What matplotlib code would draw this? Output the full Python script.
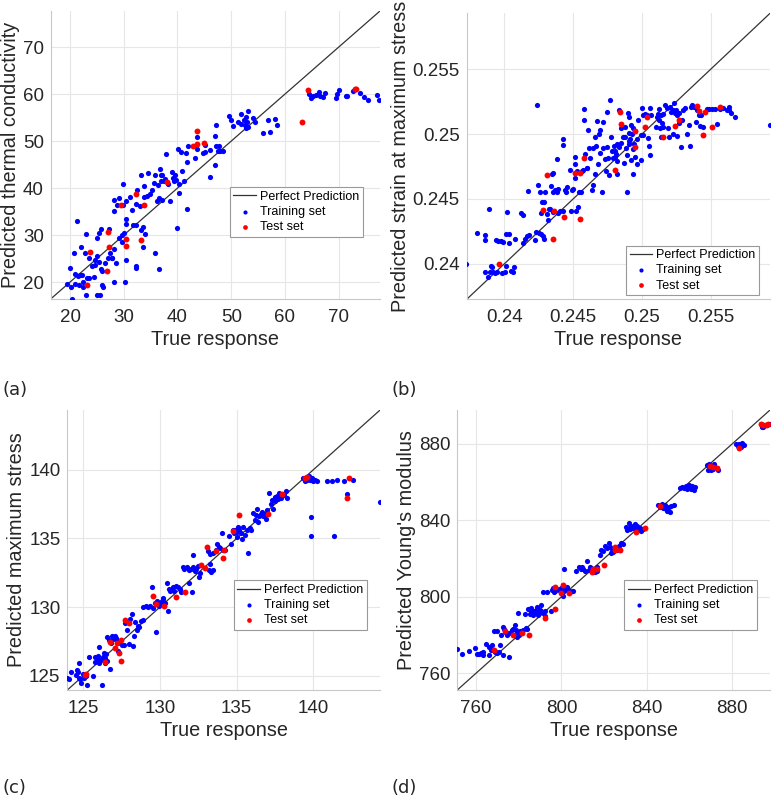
import matplotlib
matplotlib.use("Agg")
import matplotlib.pyplot as plt
import numpy as np

plt.rcParams['font.family'] = ['Liberation Sans', 'DejaVu Sans']

# ---- (a) thermal conductivity ----
a_train_x = [19.4, 19.9, 20.1, 20.4, 20.7, 20.9, 21.0, 21.3, 21.5, 21.6, 21.9, 22.1, 22.3, 22.4, 22.5, 22.7,
             22.9, 23.0, 23.1, 23.5, 23.5, 24.1, 24.4, 24.6, 24.7, 25.0, 25.1, 25.1, 25.3, 25.4, 25.6, 25.7,
             25.8, 25.9, 26.0, 26.1, 26.6, 27.0, 27.3, 27.5, 27.8, 27.9, 28.1, 28.2, 28.2, 28.2, 28.6, 28.7,
             29.1, 29.1, 29.6, 29.7, 29.9, 29.9, 30.0, 30.3, 30.4, 30.4, 30.5, 30.5, 31.2, 31.5, 31.8, 32.3,
             32.3, 32.2, 32.2, 32.5, 33.0, 33.2, 33.3, 33.5, 33.6, 33.8, 33.8, 34.0, 34.3, 34.6, 34.8, 35.3,
             35.6, 35.8, 35.9, 36.1, 36.3, 36.5, 36.6, 36.8, 36.9, 37.0, 37.2, 37.2, 37.4, 37.6, 37.9, 38.2,
             38.6, 39.0, 39.2, 39.4, 39.5, 39.7, 39.9, 40.1, 40.2, 40.3, 40.6, 40.8, 41.3, 41.5, 41.7, 41.8,
             42.0, 43.3, 43.5, 43.6, 43.6, 44.8, 45.1, 45.1, 46.0, 46.0, 46.9, 46.9, 47.2, 47.2, 47.6, 47.8,
             47.9, 48.5, 49.5, 50.0, 50.3, 51.3, 51.8, 51.8, 52.3, 52.5, 52.7, 52.8, 53.0, 53.1, 53.1, 54.0,
             54.5, 55.9, 56.8, 57.3, 58.2, 58.6, 64.5, 64.8, 65.2, 65.7, 66.4, 66.6, 67.1, 67.4, 69.5, 69.6,
             70.1, 71.4, 71.6, 72.6, 74.0, 74.8, 75.5, 77.1, 77.6]
a_train_y = [19.6, 23.0, 19.0, 16.5, 26.1, 21.8, 19.5, 33.1, 21.3, 19.4, 21.5, 27.4, 21.4, 19.0, 20.0, 26.2,
             17.3, 30.3, 20.8, 25.2, 20.9, 23.5, 21.1, 23.7, 24.6, 25.5, 29.3, 17.3, 30.5, 24.2, 17.3, 31.2,
             22.7, 19.3, 22.3, 19.0, 24.1, 25.2, 31.2, 26.2, 25.2, 25.2, 37.5, 27.1, 20.1, 35.1, 24.1, 36.5,
             37.8, 29.3, 28.6, 30.1, 40.9, 36.3, 30.5, 20.0, 24.8, 37.3, 33.4, 32.4, 38.2, 35.4, 32.2, 36.6,
             32.2, 23.5, 22.9, 39.5, 36.1, 42.7, 31.1, 27.5, 31.7, 40.5, 38.1, 30.2, 38.4, 43.2, 38.7, 39.6,
             41.1, 42.8, 26.2, 37.3, 40.7, 22.7, 37.8, 44.1, 42.7, 41.6, 37.5, 42.8, 41.6, 42.0, 47.3, 40.8,
             37.3, 43.5, 42.1, 41.6, 42.8, 41.8, 31.5, 48.3, 38.9, 40.9, 47.7, 43.6, 41.6, 47.4, 45.5, 35.6,
             48.9, 46.3, 49.0, 50.8, 48.3, 47.4, 47.7, 49.1, 42.3, 48.2, 51.0, 45.0, 53.5, 48.9, 47.9, 48.9,
             47.9, 47.9, 55.3, 54.4, 53.2, 54.1, 55.8, 53.7, 54.5, 53.4, 55.2, 52.8, 54.0, 56.4, 53.1, 54.9,
             54.1, 51.8, 54.4, 52.0, 54.7, 53.5, 60.0, 59.2, 59.7, 59.9, 60.5, 59.5, 59.3, 60.3, 59.1, 60.0,
             60.9, 59.6, 59.5, 60.6, 60.2, 59.3, 58.8, 59.9, 58.8]
a_test_x = [23.2, 23.8, 26.8, 27.1, 27.3, 29.4, 30.4, 30.4, 32.3, 33.3, 33.7, 38.1, 42.8, 43.7, 43.7, 45.0,
            63.1, 64.3, 73.0, 73.2]
a_test_y = [19.3, 26.4, 22.4, 30.7, 27.5, 36.4, 29.1, 27.7, 38.7, 28.9, 36.4, 41.4, 48.9, 52.1, 49.3, 49.5,
            54.1, 60.8, 61.0, 61.0]

# ---- (b) strain at maximum stress ----
b_train_x = [0.23721, 0.23804, 0.23862, 0.23862, 0.23857, 0.23881, 0.23891, 0.23896, 0.23906, 0.23910,
             0.23920, 0.23935, 0.23939, 0.23944, 0.23954, 0.23973, 0.23983, 0.23993, 0.24007, 0.24012,
             0.24012, 0.24017, 0.24036, 0.24032, 0.24051, 0.24061, 0.24070, 0.24080, 0.24119, 0.24133,
             0.24138, 0.24153, 0.24167, 0.24172, 0.24177, 0.24225, 0.24230, 0.24240, 0.24245, 0.24254,
             0.24262, 0.24264, 0.24269, 0.24274, 0.24284, 0.24288, 0.24291, 0.24293, 0.24308, 0.24317,
             0.24327, 0.24332, 0.24342, 0.24347, 0.24351, 0.24356, 0.24356, 0.24371, 0.24380, 0.24385,
             0.24390, 0.24393, 0.24405, 0.24429, 0.24429, 0.24429, 0.24439, 0.24448, 0.24458, 0.24477,
             0.24482, 0.24492, 0.24502, 0.24511, 0.24511, 0.24516, 0.24521, 0.24531, 0.24538, 0.24545,
             0.24560, 0.24565, 0.24569, 0.24579, 0.24579, 0.24589, 0.24599, 0.24603, 0.24608, 0.24613,
             0.24623, 0.24637, 0.24642, 0.24647, 0.24657, 0.24662, 0.24666, 0.24676, 0.24681, 0.24686,
             0.24695, 0.24695, 0.24710, 0.24715, 0.24720, 0.24732, 0.24739, 0.24749, 0.24749, 0.24754,
             0.24763, 0.24768, 0.24778, 0.24783, 0.24788, 0.24797, 0.24802, 0.24807, 0.24812, 0.24817,
             0.24821, 0.24821, 0.24831, 0.24836, 0.24846, 0.24851, 0.24860, 0.24870, 0.24875, 0.24880,
             0.24884, 0.24889, 0.24894, 0.24899, 0.24904, 0.24904, 0.24904, 0.24909, 0.24914, 0.24918,
             0.24923, 0.24928, 0.24933, 0.24933, 0.24938, 0.24943, 0.24947, 0.24952, 0.24962, 0.24967,
             0.24972, 0.24991, 0.24996, 0.25001, 0.25006, 0.25010, 0.25020, 0.25035, 0.25044, 0.25049,
             0.25059, 0.25059, 0.25064, 0.25103, 0.25112, 0.25117, 0.25122, 0.25127, 0.25132, 0.25137,
             0.25141, 0.25146, 0.25151, 0.25156, 0.25170, 0.25180, 0.25190, 0.25195, 0.25204, 0.25214,
             0.25224, 0.25229, 0.25233, 0.25238, 0.25248, 0.25253, 0.25258, 0.25267, 0.25272, 0.25282,
             0.25292, 0.25301, 0.25316, 0.25330, 0.25340, 0.25350, 0.25355, 0.25364, 0.25379, 0.25393,
             0.25403, 0.25413, 0.25422, 0.25432, 0.25447, 0.25471, 0.25490, 0.25510, 0.25534, 0.25549,
             0.25568, 0.25592, 0.25616, 0.25631, 0.25636, 0.25650, 0.25679, 0.25931]
b_train_y = [0.24000, 0.24236, 0.24226, 0.24182, 0.23941, 0.23902, 0.24419, 0.23941, 0.23987, 0.23979,
             0.23941, 0.23931, 0.24185, 0.23938, 0.24177, 0.24175, 0.23933, 0.24167, 0.23938, 0.24231,
             0.23985, 0.24396, 0.24231, 0.24157, 0.23946, 0.23941, 0.23979, 0.24190, 0.24390, 0.24378,
             0.24164, 0.24193, 0.24211, 0.24565, 0.24221, 0.24185, 0.24244, 0.25223, 0.24609, 0.24241,
             0.24550, 0.24390, 0.24231, 0.24473, 0.24211, 0.24195, 0.24473, 0.24557, 0.24385, 0.24339,
             0.24421, 0.24426, 0.24601, 0.24694, 0.24550, 0.24699, 0.24401, 0.24570, 0.24807, 0.24555,
             0.24578, 0.24390, 0.24411, 0.24961, 0.24914, 0.24411, 0.24570, 0.24555, 0.24591, 0.24724,
             0.24411, 0.24568, 0.24575, 0.24827, 0.24771, 0.24658, 0.24411, 0.24719, 0.24437, 0.24555,
             0.24552, 0.24719, 0.24724, 0.25197, 0.25110, 0.24848, 0.24742, 0.24735, 0.25033, 0.24891,
             0.24817, 0.24568, 0.24896, 0.24606, 0.24691, 0.24981, 0.24912, 0.25099, 0.24771, 0.25002,
             0.25033, 0.24853, 0.24552, 0.24891, 0.25092, 0.24807, 0.24719, 0.25174, 0.24904, 0.24817,
             0.24686, 0.25259, 0.24976, 0.24866, 0.24817, 0.24912, 0.24827, 0.24868, 0.24848, 0.24925,
             0.24789, 0.24694, 0.25187, 0.24904, 0.25048, 0.24935, 0.24981, 0.24781, 0.25058, 0.24976,
             0.24891, 0.24840, 0.24555, 0.25161, 0.25130, 0.25012, 0.24945, 0.24920, 0.24961, 0.24801,
             0.25069, 0.25000, 0.24884, 0.24694, 0.25045, 0.24925, 0.25020, 0.24827, 0.24961, 0.24771,
             0.25110, 0.24801, 0.24992, 0.25200, 0.25148, 0.24992, 0.25156, 0.25148, 0.24968, 0.24909,
             0.25200, 0.24837, 0.25148, 0.25053, 0.25130, 0.25156, 0.25197, 0.25110, 0.25048, 0.25148,
             0.24981, 0.25084, 0.25156, 0.25058, 0.25228, 0.25202, 0.25048, 0.24976, 0.25207, 0.25171,
             0.25187, 0.25002, 0.25238, 0.25161, 0.25187, 0.24986, 0.25148, 0.25161, 0.25084, 0.24904,
             0.25105, 0.25187, 0.25200, 0.25002, 0.25069, 0.24909, 0.25212, 0.25225, 0.25207, 0.25097,
             0.25187, 0.25148, 0.25066, 0.25148, 0.25053, 0.25192, 0.25192, 0.25192, 0.25192, 0.25079,
             0.25192, 0.25200, 0.25187, 0.25207, 0.25182, 0.25166, 0.25130, 0.25071]
b_test_x = [0.23964, 0.24284, 0.24313, 0.24351, 0.24361, 0.24434, 0.24514, 0.24550, 0.24550, 0.24579,
            0.24802, 0.24841, 0.24851, 0.24947, 0.24952, 0.25020, 0.25040, 0.25151, 0.25243, 0.25267,
            0.25398, 0.25413, 0.25442, 0.25461, 0.25510, 0.25568]
b_test_y = [0.24000, 0.24416, 0.24688, 0.24193, 0.24411, 0.24360, 0.24699, 0.24699, 0.24349, 0.24817,
            0.24727, 0.25174, 0.25076, 0.24899, 0.25022, 0.25058, 0.25130, 0.24981, 0.25066, 0.25105,
            0.25217, 0.25179, 0.24992, 0.25174, 0.25058, 0.25212]

# ---- (c) maximum stress ----
c_train_x = [123.92, 124.09, 124.22, 124.52, 124.61, 124.65, 124.70, 124.74, 124.78, 124.87, 124.96, 125.04,
             125.17, 125.26, 125.35, 125.61, 125.74, 125.78, 125.87, 125.96, 126.00, 126.04, 126.09, 126.17,
             126.22, 126.26, 126.35, 126.39, 126.43, 126.48, 126.52, 126.57, 126.65, 126.74, 126.78, 126.87,
             126.96, 127.04, 127.13, 127.22, 127.28, 127.39, 127.52, 127.65, 127.74, 127.83, 127.96, 128.04,
             128.17, 128.22, 128.30, 128.39, 128.48, 128.57, 128.65, 128.74, 128.87, 128.91, 129.09, 129.22,
             129.35, 129.48, 129.52, 129.65, 129.74, 129.78, 129.91, 130.09, 130.17, 130.22, 130.30, 130.43,
             130.50, 130.57, 130.65, 130.74, 130.83, 130.91, 131.04, 131.17, 131.30, 131.39, 131.48, 131.57,
             131.74, 131.87, 131.91, 132.00, 132.09, 132.13, 132.17, 132.26, 132.35, 132.48, 132.57, 132.61,
             132.70, 133.17, 133.26, 133.35, 133.43, 133.13, 133.26, 133.48, 133.65, 133.74, 133.83, 133.91,
             134.04, 134.09, 134.26, 134.52, 134.65, 134.74, 134.83, 134.91, 135.00, 135.04, 135.09, 135.17,
             135.26, 135.35, 135.39, 135.52, 135.65, 135.74, 135.87, 135.96, 136.09, 136.17, 136.26, 136.30,
             136.39, 136.48, 136.57, 136.65, 136.74, 136.87, 136.91, 137.00, 137.09, 137.22, 137.30, 137.39,
             137.48, 137.52, 137.61, 137.70, 137.78, 137.91, 138.09, 138.22, 138.30, 139.30, 139.43, 139.57,
             139.70, 139.78, 139.83, 139.87, 139.91, 140.00, 140.13, 140.22, 140.91, 141.22, 141.35, 141.57,
             142.00, 142.22, 142.61, 144.35]
c_train_y = [124.81, 124.76, 125.24, 125.05, 125.44, 125.24, 124.85, 125.92, 124.76, 124.47, 125.10, 124.81,
             124.95, 124.35, 126.40, 125.00, 125.97, 126.40, 126.21, 126.45, 127.08, 125.92, 126.16, 126.11,
             124.35, 126.40, 126.65, 125.92, 126.28, 126.55, 127.81, 126.04, 127.61, 125.48, 127.37, 127.86,
             127.66, 127.90, 127.73, 127.56, 126.81, 127.37, 127.25, 127.25, 128.82, 128.34, 127.32, 129.11,
             129.50, 127.18, 127.90, 128.92, 128.34, 128.63, 128.53, 129.02, 129.06, 130.03, 130.08, 130.03,
             130.08, 131.48, 129.91, 130.32, 128.17, 130.47, 130.10, 130.35, 130.64, 130.56, 130.27, 131.73,
             129.72, 131.29, 131.19, 131.24, 131.48, 131.19, 131.53, 131.44, 131.29, 131.12, 132.89, 132.74,
             132.89, 132.69, 131.73, 132.74, 131.07, 133.81, 132.94, 132.60, 132.74, 132.98, 132.16, 132.50,
             133.03, 132.69, 133.13, 132.57, 132.69, 134.10, 133.86, 133.95, 134.15, 134.58, 134.34, 134.27,
             135.36, 134.19, 134.19, 135.19, 134.58, 135.60, 135.36, 135.65, 135.48, 135.11, 135.84, 135.60,
             135.40, 134.99, 135.84, 135.28, 135.65, 133.95, 135.79, 135.60, 136.86, 136.32, 136.69, 137.17,
             136.20, 136.61, 136.81, 136.91, 136.61, 136.76, 136.44, 137.05, 138.31, 137.53, 137.78, 137.15,
             138.02, 137.73, 138.07, 137.87, 138.31, 137.97, 138.19, 138.45, 137.97, 139.42, 139.18, 139.28,
             139.57, 139.23, 136.57, 135.19, 139.42, 139.18, 139.28, 139.15, 139.15, 139.18, 135.16, 139.28,
             139.18, 138.21, 139.28, 137.63]
c_test_x = [125.09, 125.17, 126.39, 126.74, 127.04, 127.17, 127.30, 127.43, 127.48, 127.70, 127.96, 129.52,
            129.74, 130.26, 131.04, 131.61, 132.65, 132.91, 133.09, 133.65, 134.13, 134.17, 134.78, 135.17,
            137.04, 137.96, 139.48, 139.57, 142.17, 142.30]
c_test_y = [125.02, 125.15, 125.97, 127.44, 127.01, 127.37, 126.65, 126.09, 127.61, 129.06, 128.87, 130.83,
            130.20, 130.08, 130.76, 131.10, 133.03, 132.84, 134.39, 134.10, 133.61, 134.15, 135.53, 136.73,
            136.76, 138.21, 139.42, 139.47, 137.92, 139.37]

# ---- (d) Young's modulus ----
d_train_x = [751.3, 753.4, 756.6, 759.7, 760.3, 761.6, 762.5, 763.1, 763.4, 764.7, 765.9, 766.2, 766.9, 767.5,
             768.1, 768.4, 768.7, 769.4, 770.0, 770.0, 770.6, 771.2, 771.9, 772.5, 772.8, 773.1, 773.7, 774.4,
             775.3, 775.6, 776.9, 777.5, 778.1, 778.4, 778.7, 779.0, 779.4, 779.7, 780.0, 780.6, 781.2, 782.2,
             782.8, 783.4, 784.0, 784.3, 785.3, 785.6, 785.9, 786.5, 787.2, 787.8, 788.4, 788.7, 789.0, 789.7,
             790.0, 790.3, 790.6, 791.2, 791.5, 792.1, 792.5, 793.1, 795.3, 795.6, 795.9, 796.5, 797.1, 797.8,
             798.7, 799.6, 800.3, 800.6, 800.9, 801.2, 801.8, 802.4, 803.1, 804.0, 804.9, 805.6, 806.8, 808.4,
             809.0, 809.6, 810.2, 810.9, 811.8, 812.7, 813.4, 814.0, 814.9, 815.6, 816.5, 816.8, 818.1, 818.4,
             819.6, 820.5, 821.5, 822.1, 822.7, 823.0, 823.7, 824.3, 824.9, 825.9, 826.8, 827.4, 827.7, 828.7,
             830.2, 830.8, 831.5, 832.1, 832.7, 833.7, 834.3, 834.9, 835.5, 836.2, 836.8, 837.4, 838.3, 845.2,
             846.1, 847.1, 847.7, 848.3, 849.0, 849.6, 850.2, 850.8, 851.4, 852.7, 855.5, 856.4, 857.4, 858.3,
             859.0, 859.6, 860.2, 860.8, 861.4, 862.1, 862.7, 868.0, 868.6, 869.2, 869.9, 870.5, 871.1, 871.7,
             872.7, 873.3, 882.0, 882.7, 883.3, 883.9, 884.8, 885.5, 893.3, 893.9, 894.5, 895.5, 896.4, 897.6]
d_train_y = [772.6, 770.0, 771.6, 773.3, 770.0, 770.0, 770.5, 769.5, 770.9, 775.5, 773.8, 769.5, 772.3, 774.7,
             772.1, 781.9, 770.9, 771.2, 781.9, 770.4, 771.2, 774.7, 779.9, 784.0, 769.5, 783.0, 781.6, 780.2,
             781.2, 768.5, 782.4, 783.3, 785.0, 779.9, 782.4, 779.0, 781.2, 791.6, 780.2, 781.9, 780.9, 782.4,
             790.9, 783.7, 783.0, 793.7, 791.2, 794.0, 792.3, 790.2, 792.8, 791.6, 793.7, 794.4, 790.6, 791.6,
             793.3, 795.7, 792.6, 791.6, 802.3, 792.3, 789.9, 802.6, 792.3, 803.3, 804.4, 802.3, 803.0, 804.0,
             803.3, 804.4, 802.0, 804.4, 800.6, 814.7, 803.7, 804.9, 803.3, 802.6, 803.0, 803.0, 813.5, 815.4,
             814.4, 815.8, 814.7, 813.4, 818.9, 814.0, 815.4, 815.1, 813.0, 813.0, 815.4, 813.4, 821.6, 824.7,
             824.1, 826.8, 825.4, 827.9, 826.1, 823.0, 824.1, 823.4, 825.1, 824.4, 826.5, 824.7, 827.9, 827.5,
             836.5, 835.1, 838.6, 835.4, 837.2, 836.1, 837.9, 835.4, 836.8, 835.1, 835.8, 834.4, 835.4, 848.1,
             847.2, 848.6, 846.3, 848.1, 845.8, 845.1, 847.2, 844.6, 847.5, 847.9, 856.7, 857.2, 856.9, 857.9,
             856.2, 858.6, 857.5, 856.5, 858.2, 855.8, 857.2, 868.8, 866.5, 869.3, 866.2, 868.6, 866.9, 869.3,
             867.6, 866.5, 880.0, 879.0, 880.0, 878.3, 880.3, 879.3, 890.4, 889.0, 888.6, 890.0, 889.7, 890.4]
d_test_x = [768.4, 773.7, 777.2, 781.5, 785.0, 792.5, 797.1, 797.1, 800.0, 800.9, 803.4, 814.3, 814.9, 816.5,
            819.9, 824.9, 825.2, 827.4, 834.9, 839.3, 846.1, 869.6, 871.1, 873.0, 883.3, 893.6, 894.5, 895.8,
            896.7]
d_test_y = [772.1, 782.3, 779.9, 781.2, 779.9, 788.8, 793.5, 804.9, 801.8, 806.1, 801.8, 812.7, 814.4, 814.7,
            816.8, 826.1, 824.7, 824.7, 833.7, 835.8, 847.5, 868.3, 868.0, 867.6, 877.9, 890.4, 889.7, 889.7,
            890.4]

panels = [
    dict(tr=(a_train_x, a_train_y), te=(a_test_x, a_test_y), lim=(16.4, 77.7),
         ticks=[20, 30, 40, 50, 60, 70], ylabel="Predicted thermal conductivity",
         pos=[0.0655, 0.6258, 0.4255, 0.3605], leg=(0.947, 0.216), tag="(a)", tagpos=(0.003, 0.501)),
    dict(tr=(b_train_x, b_train_y), te=(b_test_x, b_test_y), lim=(0.23727, 0.25931),
         ticks=[0.24, 0.245, 0.25, 0.255], ylabel="Predicted strain at maximum stress",
         pos=[0.603, 0.6254, 0.3919, 0.358], leg=(0.963, 0.014), tag="(b)", tagpos=(0.506, 0.501)),
    dict(tr=(c_train_x, c_train_y), te=(c_test_x, c_test_y), lim=(123.96, 144.35),
         ticks=[125, 130, 135, 140], ylabel="Predicted maximum stress",
         pos=[0.087, 0.1364, 0.404, 0.3504], leg=(0.957, 0.214), tag="(c)", tagpos=(0.003, 0.003)),
    dict(tr=(d_train_x, d_train_y), te=(d_test_x, d_test_y), lim=(751.2, 897.7),
         ticks=[760, 800, 840, 880], ylabel="Predicted Young's modulus",
         pos=[0.5908, 0.1364, 0.404, 0.3504], leg=(0.959, 0.214), tag="(d)", tagpos=(0.506, 0.003)),
]

fig = plt.figure(figsize=(7.74, 7.99), dpi=100)

for p in panels:
    ax = fig.add_axes(p["pos"])
    lo, hi = p["lim"]
    ax.plot([lo, hi], [lo, hi], color="#333333", lw=0.9, label="Perfect Prediction", zorder=2)
    ax.scatter(*p["tr"], s=14, c="#0000ff", lw=0, label="Training set", zorder=3)
    ax.scatter(*p["te"], s=18, c="#ff0000", lw=0, label="Test set", zorder=4)
    ax.set_xlim(lo, hi)
    ax.set_ylim(lo, hi)
    ax.set_xticks(p["ticks"])
    ax.set_yticks(p["ticks"])
    ax.set_xticklabels(["{:g}".format(t) for t in p["ticks"]])
    ax.set_yticklabels(["{:g}".format(t) for t in p["ticks"]])
    ax.tick_params(labelsize=13.5, colors="#262626", length=0)
    ax.tick_params(axis="x", pad=7)
    ax.tick_params(axis="y", pad=5)
    ax.grid(True, color="#e6e6e6", lw=0.8)
    ax.set_axisbelow(True)
    for s in ["top", "right"]:
        ax.spines[s].set_visible(False)
    for s in ["left", "bottom"]:
        ax.spines[s].set_color("#c8c8c8")
        ax.spines[s].set_linewidth(0.8)
    ax.set_xlabel("True response", fontsize=14.3, color="#262626", labelpad=3)
    ax.set_ylabel(p["ylabel"], fontsize=14.3, color="#262626", labelpad=2)
    leg = ax.legend(loc="lower right", bbox_to_anchor=p["leg"], fontsize=9, fancybox=False,
                    framealpha=1, edgecolor="#999999", handlelength=1.8, handletextpad=0.3,
                    borderpad=0.3, labelspacing=0.25, borderaxespad=0, markerscale=0.8)
    leg.get_frame().set_linewidth(0.8)
    fig.text(p["tagpos"][0], p["tagpos"][1], p["tag"], fontsize=13, family="DejaVu Sans",
             color="#262626", va="bottom")

fig.savefig("out.png", dpi=100)
